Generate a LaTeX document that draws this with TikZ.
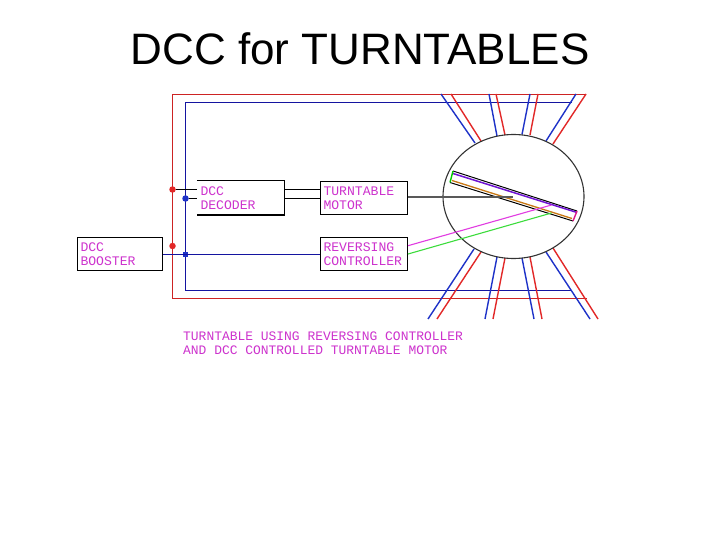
\documentclass[tikz,border=0pt]{standalone}
\usepackage{fontspec}
\setmainfont{Liberation Sans}
\newfontfamily\cadfont{Liberation Mono}
\definecolor{railred}{RGB}{226,40,40}
\definecolor{railblue}{RGB}{30,50,200}
\definecolor{frameblue}{RGB}{20,20,160}
\definecolor{framered}{RGB}{205,35,35}
\definecolor{cadtext}{RGB}{205,50,205}
\tikzset{
  cadbox/.style={draw=black,line width=1.1pt,minimum height=33pt,inner xsep=3pt,inner ysep=0pt,text width=#1,
    align=left,font=\cadfont\fontsize{13.1}{14}\selectfont,text=cadtext},
  opencad/.style={cadbox=#1,draw=none},
  caption/.style={anchor=west,align=left,inner sep=0pt,font=\cadfont\fontsize{12.95}{14}\selectfont,text=cadtext},
  wire/.style={draw=black,line width=1.1pt},
  redrail/.style={draw=railred,line width=1.4pt},
  bluerail/.style={draw=railblue,line width=1.4pt},
  redframe/.style={draw=framered,line width=1.1pt},
  blueframe/.style={draw=frameblue,line width=1.1pt},
  reddot/.style={circle,fill=railred,inner sep=0pt,minimum size=6.5pt},
  bluedot/.style={circle,fill=railblue,inner sep=0pt,minimum size=6.5pt},
  bluesq/.style={rectangle,fill=railblue,inner sep=0pt,minimum size=5.5pt},
}
\begin{document}
\begin{tikzpicture}[x=1pt,y=-1pt]
\useasboundingbox (0,0) rectangle (720,540);
\fill[white] (0,0) rectangle (720,540);
\node (title) at (360,49) {\fontsize{44}{48}\selectfont DCC for TURNTABLES};

% frames
\draw[redframe] (586,94.5) -- (172.5,94.5) -- (172.5,298.5) -- (587,298.5);
\draw[blueframe] (572,102.5) -- (185.5,102.5) -- (185.5,290.5) -- (572,290.5);

% rails top
\draw[bluerail] (441,94) -- (475,143);
\draw[redrail] (451,94) -- (481,141);
\draw[bluerail] (489,94) -- (497,136);
\draw[redrail] (496,94) -- (505,135);
\draw[bluerail] (530,94) -- (522,134.5);
\draw[redrail] (538,94) -- (530,135);
\draw[bluerail] (576,94) -- (546,141);
\draw[redrail] (586,94) -- (553,144);
% rails bottom
\draw[bluerail] (474,249) -- (428,319);
\draw[redrail] (481,252) -- (437,319);
\draw[bluerail] (497,257) -- (485,319);
\draw[redrail] (505,258) -- (493,319);
\draw[bluerail] (522,258) -- (534,319);
\draw[redrail] (530,257) -- (542,319);
\draw[bluerail] (546,252) -- (590,319);
\draw[redrail] (553,248) -- (598,319);

% turntable pit
\draw[black!80,line width=1.1pt] (513.5,196.5) ellipse [x radius=70.5,y radius=62];

% boxes
\node[cadbox=81pt] (motor) at (364,198) {TURNTABLE\\MOTOR};
\node[cadbox=81pt] (rev) at (364,254) {REVERSING\\CONTROLLER};
\node[cadbox=79pt] (boost) at (120,254) {DCC\\BOOSTER};
\node[opencad=80pt] (dec) at (240.5,198) {DCC\\DECODER};
\draw[wire] (dec.north west) -- (dec.north east) -- (dec.south east) -- (dec.south west);

% junctions
\node[reddot] (r1) at (172.5,189.5) {};
\node[bluedot] (b1) at (185.5,198.5) {};
\node[reddot] (r2) at (172.5,246) {};
\node[bluesq] (b2) at (185.5,254.5) {};

% wires
\coordinate (decr) at (dec.west |- r1);
\coordinate (decb) at (dec.west |- b1);
\draw[wire] (r1) -- (decr);
\draw[wire] (b1) -- (decb);
\draw[wire] (dec.east |- r1) -- (motor.west |- r1);
\draw[wire] (dec.east |- b1) -- (motor.west |- b1);
\draw[blueframe] (boost.east |- b2) -- (rev.west |- b2);

% turntable bridge
\coordinate (ba) at (453,171);
\coordinate (bb) at (577,211);
\coordinate (bc) at (573,221);
\coordinate (bd) at (450,182.5);
\draw[black,line width=1pt] (ba) -- (bb);
\draw[black,line width=1pt] (bd) -- (bc);
\draw[draw={rgb,255:red,110;green,20;blue,210},line width=1.5pt] (453,173.5) -- (577,212.5);
\draw[draw={rgb,255:red,200;green,120;blue,20},line width=1.3pt] (452,180.5) -- (572,218.5);
\draw[green!80!black,line width=1.4pt] (ba) -- (bd);
\draw[magenta!80!violet,line width=1.4pt] (bb) -- (bc);

% bridge feeds
\coordinate (mshaft) at (513,197);
\draw[black!65,line width=2pt] (motor.east |- mshaft) -- (mshaft);
\coordinate (bm) at (551.5,205);
\coordinate (bg) at (551.5,213);
\draw[draw={rgb,255:red,225;green,60;blue,225},line width=1.1pt] (rev.east |- 0,245.7) -- (bm);
\draw[draw={rgb,255:red,60;green,220;blue,60},line width=1.1pt] (rev.east |- 0,254) -- (bg);

% caption
\node[caption] (cap1) at (183,336) {TURNTABLE USING REVERSING CONTROLLER};
\node[caption] (cap2) at (183,350) {AND DCC CONTROLLED TURNTABLE MOTOR};
\end{tikzpicture}
\end{document}
